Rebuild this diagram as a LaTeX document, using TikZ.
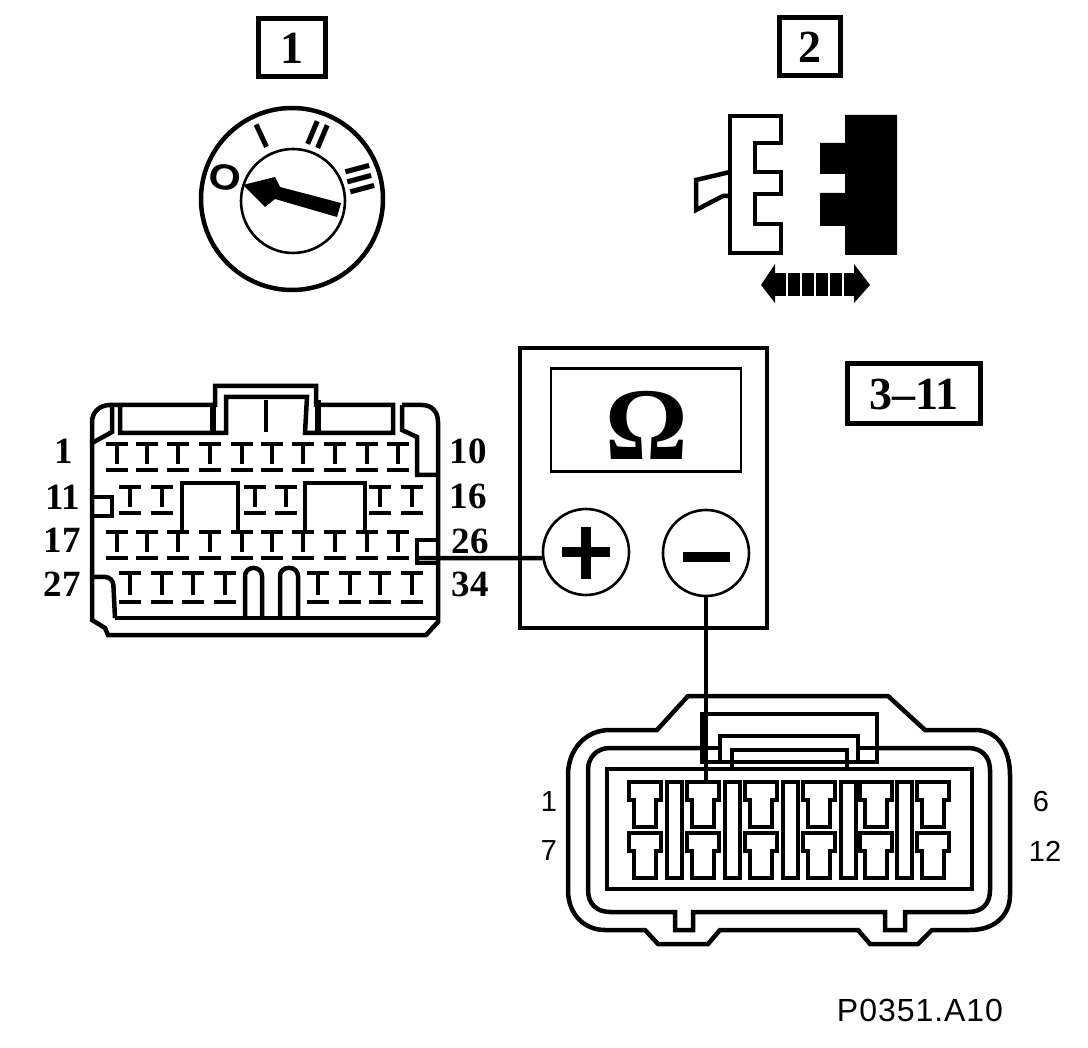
\documentclass[tikz,border=0pt]{standalone}
\usepackage{fontspec}
\setmainfont{Liberation Serif}
\setsansfont{Liberation Sans}
\tikzset{
  part/.style={line width=4.5pt,line join=miter},
  boxlabel/.style={draw,line width=5pt,inner sep=0pt,font=\bfseries\fontsize{46}{46}\selectfont},
  pinnum/.style={inner sep=0pt,font=\bfseries\fontsize{37}{37}\selectfont},
  sansnum/.style={inner sep=0pt,font=\sffamily\fontsize{29}{29}\selectfont},
  dialmark/.style={inner sep=0pt,font=\sffamily\bfseries\fontsize{36}{36}\selectfont},
  probe/.style={circle,draw,line width=2.6pt,minimum size=86pt,inner sep=0pt}
}
\begin{document}
\begin{tikzpicture}[x=1pt,y=-1pt]
      \useasboundingbox (0,0) rectangle (1088,1048);

      \node[boxlabel,minimum width=67pt,minimum height=58pt] (step1) at (292,48) {1};
      \node[boxlabel,minimum width=61pt,minimum height=58pt] (step2) at (810,47) {2};
      \node[boxlabel,minimum width=133pt,minimum height=60pt] (step3) at (914,394) {3--11};

      % ignition switch
      \draw[part] (292,199) circle (91);
      \node[circle,draw,line width=2.6pt,minimum size=104pt,inner sep=0pt] (barrel) at (293,201) {};
      \fill (243,185) -- (275,177) -- (280,187) -- (341,203) -- (337,217) -- (275,199) -- (265,207) -- cycle;
      \node[dialmark,rotate=-8,xscale=1.15,transform shape] (pos0) at (225,177) {O};
      \node[dialmark,rotate=25] (pos1) at (262,136) {I};
      \node[dialmark,rotate=-23] (pos2) at (318,135) {II};
      \node[dialmark,rotate=-75] (pos3) at (360,179) {III};

      % plug pair
      \draw[part] (730,116) -- (781,116) -- (781,143) -- (755,143) -- (755,172) -- (781,172) -- (781,194)
        -- (755,194) -- (755,224) -- (781,224) -- (781,253) -- (730,253) -- cycle;
      \draw[part] (730,172) -- (696,180) -- (696,210) -- (723,196) -- (730,196);
      \fill (845,115) -- (897,115) -- (897,255) -- (845,255) -- (845,226) -- (820,226) -- (820,193)
        -- (845,193) -- (845,174) -- (820,174) -- (820,143) -- (845,143) -- cycle;
      \fill (761,285) -- (775,264) -- (775,303) -- cycle;
      \fill (870,285) -- (854,264) -- (854,303) -- cycle;
      \fill (775,273) rectangle (854,296);
      \foreach \x in {787,801,815,829,843}
        \draw[white,line width=2pt] (\x,270) -- (\x,299);

      % meter
      \draw[part] (520,348) rectangle (767,628);
      \node[draw,line width=2.6pt,minimum width=190pt,minimum height=103pt,inner sep=0pt] (display) at (646,420) {};
      \node[inner sep=0pt,font=\bfseries\fontsize{103}{103}\selectfont] (ohm) at (647,425) {Ω};
      \node[probe] (plus) at (586,552) {};
      \node[probe] (minus) at (706,553) {};
      \draw[line width=10pt] (562,552) -- (610,552) (586,527) -- (586,579);
      \draw[line width=10pt] (683,557) -- (730,557);

      % large connector
      \draw[part] (92,422) .. controls (92,412) and (100,405) .. (110,405) -- (215,405) -- (215,386) -- (316,386) -- (316,405) -- (393,405)
        -- (393,433) -- (305,433) -- (307,397) -- (226,397) -- (226,433) -- (120,433) -- (120,405);
      \draw[part] (402,405) -- (422,405) .. controls (432,405) and (438,412) .. (438,422) -- (438,622) -- (426,635) -- (108,635) -- (105,628)
        -- (92,620) -- (92,422);
      \draw[line width=6.5pt] (213,405) -- (213,433) (318,400) -- (318,433);
      \draw[part] (266,400) -- (266,432);
      \draw[part] (112,407) -- (112,432) -- (92,443);
      \draw[part] (402,405) -- (402,430) -- (417,437) -- (417,475) -- (438,475);
      \draw[part] (92,497) -- (112,497) -- (112,516) -- (92,516);
      \draw[part] (438,540) -- (417,540) -- (417,563) -- (438,563);
      \draw[part,rounded corners=8pt] (92,577) -- (113,577) -- (115,618);
      \draw[part] (115,618) -- (438,618);
      \draw[part,rounded corners=8pt] (245,618) -- (245,568) -- (262,568) -- (262,618);
      \draw[part,rounded corners=8pt] (280,618) -- (280,568) -- (298,568) -- (298,618);
      \draw[part] (182,532) -- (182,483) -- (238,483) -- (238,532);
      \draw[part] (305,532) -- (305,483) -- (365,483) -- (365,532);
      \foreach \y in {444,532}
        \foreach \x in {117,147,178,210,242,272,303,335,367,398}
          \draw[part] (\x-11,\y) -- (\x+11,\y) (\x,\y) -- (\x,\y+20) (\x-11,\y+26) -- (\x+11,\y+26);
      \foreach \x in {130,162,255,286,380,412}
        \draw[part] (\x-11,487) -- (\x+11,487) (\x,487) -- (\x,507) (\x-11,513) -- (\x+11,513);
      \foreach \x in {130,162,193,225,318,350,380,412}
        \draw[part] (\x-11,573) -- (\x+11,573) (\x,573) -- (\x,595) (\x-11,602) -- (\x+11,602);
      \node[pinnum] (n1) at (64,451) {1};
      \node[pinnum] (n10) at (468,451) {10};
      \node[pinnum] (n11) at (63,497) {11};
      \node[pinnum] (n16) at (468,496) {16};
      \node[pinnum] (n17) at (62,540) {17};
      \node[pinnum] (n26) at (470,541) {26};
      \node[pinnum] (n27) at (62,584) {27};
      \node[pinnum] (n34) at (470,584) {34};

      % small connector
      \draw[part] (688,696) -- (888,696) -- (925,730) -- (975,730) .. controls (998,730) and (1010,750) .. (1010,775)
        -- (1010,895) .. controls (1010,915) and (995,930) .. (970,930) -- (932,930) -- (918,944) -- (870,944)
        -- (858,930) -- (720,930) -- (708,944) -- (658,944) -- (645,930) -- (605,930)
        .. controls (585,930) and (568,915) .. (568,890) -- (568,775) .. controls (568,750) and (585,730) .. (610,730)
        -- (657,730) -- cycle;
      \draw[part] (702,748) -- (610,748) .. controls (597,748) and (588,757) .. (588,770) -- (588,890)
        .. controls (588,904) and (597,912) .. (610,912) -- (675,912) -- (675,930) -- (693,930) -- (693,912)
        -- (885,912) -- (885,930) -- (905,930) -- (905,912) -- (968,912) .. controls (982,912) and (990,904) .. (990,890)
        -- (990,770) .. controls (990,757) and (982,748) .. (968,748) -- (877,748);
      \draw[part] (607,769) rectangle (972,889);
      \draw[part] (702,714) rectangle (877,762);
      \draw[part] (702,748) -- (720,748) (858,748) -- (877,748);
      \draw[part] (720,762) -- (720,736) -- (858,736) -- (858,762);
      \draw[part] (732,769) -- (732,750) -- (847,750) -- (847,769);
      \foreach \y in {782,833}
        \foreach \x in {645,703,761,819,876,933}
          \draw[part] (\x-16,\y) -- (\x+16,\y) -- (\x+16,\y+18) -- (\x+11,\y+18) -- (\x+11,\y+45) -- (\x-11,\y+45)
            -- (\x-11,\y+18) -- (\x-16,\y+18) -- cycle;
      \foreach \x in {667,725,783,841,897}
        \draw[part] (\x,782) rectangle (\x+15,878);
      \node[sansnum] (m1) at (549,802) {1};
      \node[sansnum] (m7) at (549,851) {7};
      \node[sansnum] (m6) at (1041,802) {6};
      \node[sansnum] (m12) at (1045,851) {12};

      % leads
      \coordinate (socket26) at (417,558);
      \coordinate (socket2) at (706,782);
      \draw[part] (socket26) -- (plus.188);
      \draw[part] (minus) -- (socket2);

      \node[inner sep=0pt,font=\sffamily\addfontfeature{LetterSpace=3}\fontsize{32}{32}\selectfont] (partno) at (920,1010) {P0351.A10};
\end{tikzpicture}
\end{document}
